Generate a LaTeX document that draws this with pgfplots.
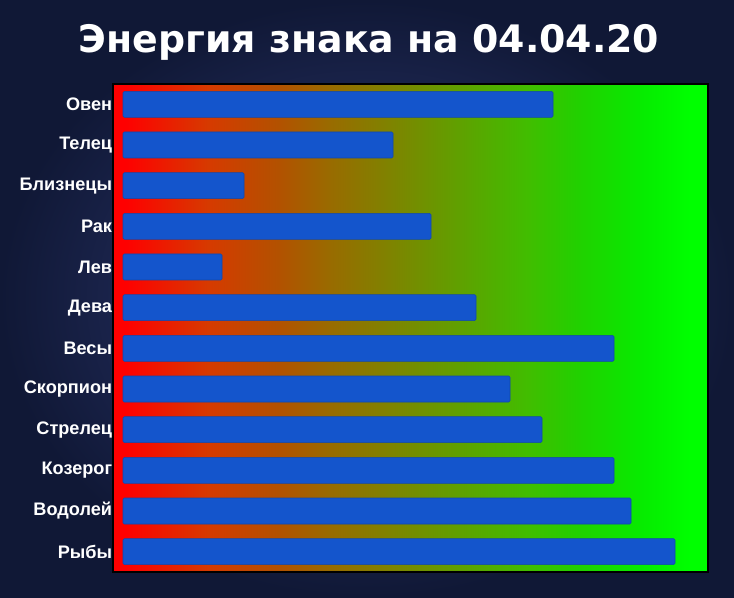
\documentclass[border=0pt]{standalone}
\usepackage{pgfplots}
\pgfplotsset{compat=1.18}
\usepackage{fontspec}
\setmainfont{Liberation Sans}
\newfontfamily\titlefont{DejaVu Sans}
\definecolor{bgin}{HTML}{303C78}
\definecolor{bgout}{HTML}{101836}
\definecolor{barblue}{HTML}{1455CC}
\definecolor{g0}{HTML}{FF0000}
\definecolor{g1}{HTML}{D63A00}
\definecolor{g2}{HTML}{B25200}
\definecolor{g3}{HTML}{9A6A00}
\definecolor{g4}{HTML}{808200}
\definecolor{g5}{HTML}{60A000}
\definecolor{g6}{HTML}{40BE00}
\definecolor{g7}{HTML}{22D000}
\definecolor{g8}{HTML}{06EC00}
\definecolor{g9}{HTML}{00FF00}
\pgfdeclarehorizontalshading{redgreen}{100bp}{color(0bp)=(g0); color(25bp)=(g0); color(26bp)=(g0);
  color(33bp)=(g1); color(39bp)=(g2); color(43bp)=(g3); color(48bp)=(g4); color(54bp)=(g5);
  color(60bp)=(g6); color(64bp)=(g7); color(69.5bp)=(g8); color(73.5bp)=(g9); color(75bp)=(g9); color(100bp)=(g9)}

\pgfplotstableread{
y val
0 430
1 270
2 121
3 308
4 99
5 353
6 491
7 387
8 419
9 491
10 508
11 552
}\energy

\begin{document}
\begin{tikzpicture}[x=0.75pt,y=0.75pt]
\shade[inner color=bgin, outer color=bgout] (0,0) rectangle (734,598);
\path[use as bounding box] (0,0) rectangle (734,598);
\node[font=\titlefont\bfseries\fontsize{28.4}{32}\selectfont, text=white] at (369,556) {Энергия знака на 04.04.20};
\begin{axis}[
  at={(84.75pt,19.5pt)}, anchor=south west,
  scale only axis, width=446.25pt, height=366pt,
  xbar, bar width=19.5pt,
  xmin=-10, xmax=585,
  ymin=-0.5, ymax=11.5, y dir=reverse,
  ytick=data,
  yticklabels={Овен,Телец,Близнецы,Рак,Лев,Дева,Весы,Скорпион,Стрелец,Козерог,Водолей,Рыбы},
  yticklabel style={font=\bfseries\fontsize{13.6}{15}\selectfont, text=white, inner sep=0.5pt},
  xtick=\empty,
  major tick length=0pt,
  axis line style={black, line width=1pt},
  axis background/.style={shading=redgreen},
]
\addplot[fill=barblue, draw=barblue!85!black, line width=0.4pt, rounded corners=1pt] table[x=val, y=y] {\energy};
\end{axis}
\end{tikzpicture}
\end{document}
